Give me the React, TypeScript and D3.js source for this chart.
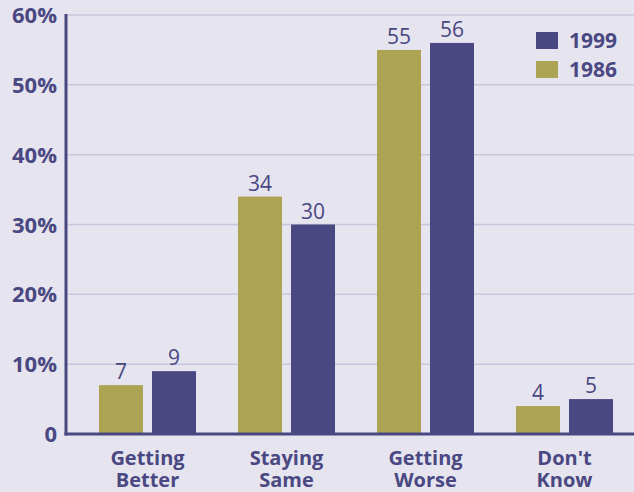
import React from "react";
import * as d3 from "d3";

const categories = [["Getting", "Better"], ["Staying", "Same"], ["Getting", "Worse"], ["Don't", "Know"]];
const series1986 = [7, 34, 55, 4];
const series1999 = [9, 30, 56, 5];
const yTicks = [0, 10, 20, 30, 40, 50, 60];
const seriesNames = ["1999", "1986"];

const W = 634, H = 492;
const BG = "#e6e4ef";
const NAVY = "#4a4882";
const OLIVE = "#aca452";
const GRID = "#c9c7de";
const FONT = "'Open Sans', 'Noto Sans', sans-serif";

export default function App() {
  const y = d3.scaleLinear().domain([0, 60]).range([434, 15]);
  const x = d3.scaleBand<number>().domain(d3.range(categories.length)).range([78, 634]).padding(0);
  const barW = 44, gap = 9;
  const cx = (i: number) => (x(i) as number) + x.bandwidth() / 2;
  return (
    <svg width={W} height={H} style={{ position: "absolute", left: 0, top: 0, background: BG }}>
      <rect x={0} y={0} width={W} height={H} fill={BG} />
      {yTicks.filter(t => t > 0).map(t => (
        <line key={t} x1={66} x2={W} y1={y(t)} y2={y(t)} stroke={GRID} strokeWidth={1.5} />
      ))}
      {yTicks.map(t => (
        <text key={t} x={57} y={y(t) + 8} textAnchor="end" fontFamily={FONT} fontWeight={700} fontSize={22} fill={NAVY}>
          {t === 0 ? "0" : `${t}%`}
        </text>
      ))}
      {categories.map((c, i) => {
        const c0 = cx(i);
        const xo = c0 - gap / 2 - barW;
        const xn = c0 + gap / 2;
        return (
          <g key={i}>
            <rect x={xo} y={y(series1986[i])} width={barW} height={y(0) - y(series1986[i])} fill={OLIVE} />
            <rect x={xn} y={y(series1999[i])} width={barW} height={y(0) - y(series1999[i])} fill={NAVY} />
            <text x={xo + barW / 2} y={y(series1986[i]) - 6} textAnchor="middle" fontFamily={FONT} fontSize={21} fill={NAVY}>{series1986[i]}</text>
            <text x={xn + barW / 2} y={y(series1999[i]) - 6} textAnchor="middle" fontFamily={FONT} fontSize={21} fill={NAVY}>{series1999[i]}</text>
            <text x={c0} y={465} textAnchor="middle" fontFamily={FONT} fontWeight={700} fontSize={20} fill={NAVY}>{c[0]}</text>
            <text x={c0} y={487} textAnchor="middle" fontFamily={FONT} fontWeight={700} fontSize={20} fill={NAVY}>{c[1]}</text>
          </g>
        );
      })}
      <line x1={66} x2={66} y1={14} y2={435.5} stroke={NAVY} strokeWidth={3} />
      <line x1={64.5} x2={W} y1={434} y2={434} stroke={NAVY} strokeWidth={3} />
      {seriesNames.map((s, i) => (
        <g key={s}>
          <rect x={536} y={32 + i * 29} width={22} height={17} fill={i === 0 ? NAVY : OLIVE} />
          <text x={569} y={48 + i * 29} fontFamily={FONT} fontWeight={700} fontSize={21} fill={NAVY}>{s}</text>
        </g>
      ))}
    </svg>
  );
}
